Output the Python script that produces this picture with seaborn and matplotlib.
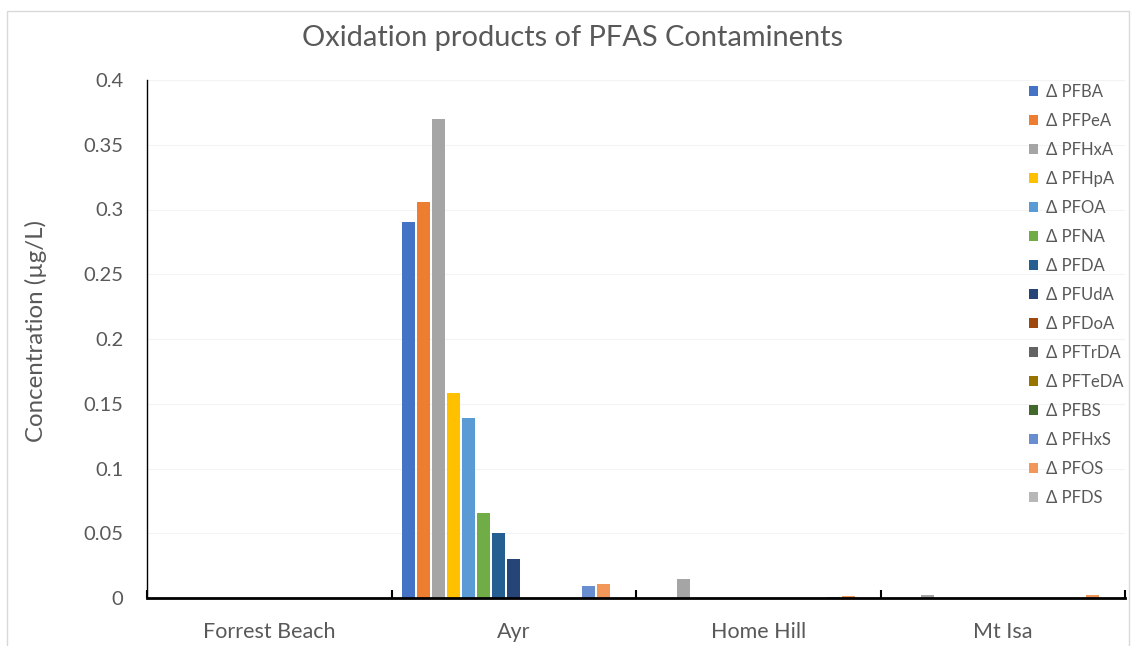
import numpy as np
import pandas as pd
import matplotlib
matplotlib.use("Agg")
import matplotlib.pyplot as plt
import seaborn as sns
from matplotlib.patches import Patch, Rectangle
from matplotlib.ticker import FixedLocator

sites = ["Forrest Beach", "Ayr", "Home Hill", "Mt Isa"]
compounds = ["Δ PFBA", "Δ PFPeA", "Δ PFHxA", "Δ PFHpA", "Δ PFOA", "Δ PFNA", "Δ PFDA",
             "Δ PFUdA", "Δ PFDoA", "Δ PFTrDA", "Δ PFTeDA", "Δ PFBS", "Δ PFHxS",
             "Δ PFOS", "Δ PFDS"]
forrest_beach = [0, 0, 0, 0, 0, 0, 0, 0, 0, 0, 0, 0, 0, 0, 0]
ayr = [0.290, 0.306, 0.370, 0.158, 0.139, 0.066, 0.050, 0.030, 0, 0, 0, 0, 0.0095, 0.011, 0]
home_hill = [0, 0, 0.015, 0, 0, 0, 0, 0, 0, 0, 0, 0, 0.0005, 0.0015, 0]
mt_isa = [0, 0, 0.0025, 0, 0, 0, 0, 0, 0, 0, 0, 0, -0.0005, 0.0025, 0]
colors = ["#4472C4", "#ED7D31", "#A5A5A5", "#FFC000", "#5B9BD5", "#70AD47", "#255E91",
          "#264478", "#9E480E", "#636363", "#997300", "#43682B", "#698ED0", "#F1975A",
          "#B7B7B7"]
y_ticks = [0, 0.05, 0.1, 0.15, 0.2, 0.25, 0.3, 0.35, 0.4]
y_labels = ["0", "0.05", "0.1", "0.15", "0.2", "0.25", "0.3", "0.35", "0.4"]

rows = []
for site, vals in zip(sites, [forrest_beach, ayr, home_hill, mt_isa]):
    for c, v in zip(compounds, vals):
        rows.append({"Site": site, "Compound": c, "Value": v})
df = pd.DataFrame(rows)

sns.set_theme(style="white")
plt.rcParams["font.family"] = ["Lato", "DejaVu Sans"]
txt = "#595959"

fig = plt.figure(figsize=(11.4, 6.46), dpi=100)
ax = fig.add_axes([147/1140, 1-598/646, (1125-147)/1140, (598-80)/646])
sns.barplot(data=df, x="Site", y="Value", hue="Compound", order=sites,
            hue_order=compounds, palette=colors, width=0.92, gap=0.13,
            saturation=1, ax=ax, legend=False, errorbar=None, zorder=3)
for p in ax.patches:
    p.set_clip_on(False)
    p.set_linewidth(0)

ax.set_ylim(0, 0.4)
ax.set_xlim(-0.5, 3.5)
ax.set_yticks(y_ticks)
ax.set_yticklabels(y_labels)
ax.yaxis.grid(True, color="#F3F3F3", linewidth=0.8, zorder=0)
ax.set_axisbelow(True)
ax.set_xlabel("")
ax.set_ylabel("Concentration (µg/L)", fontsize=17.3, color=txt)
ax.yaxis.set_label_coords(-(147-47)/978, (598-331)/518)
ax.tick_params(axis="y", length=0, pad=17, labelsize=14.5, labelcolor=txt)
ax.tick_params(axis="x", which="major", length=0, pad=17, labelsize=15.5, labelcolor=txt)
ax.xaxis.set_minor_locator(FixedLocator([-0.5, 0.5, 1.5, 2.5, 3.5]))
ax.tick_params(axis="x", which="minor", direction="in", length=6, width=1.5,
               color="black", bottom=True)
for s in ["top", "right"]:
    ax.spines[s].set_visible(False)
ax.spines["left"].set_color("black")
ax.spines["left"].set_linewidth(1)
ax.spines["bottom"].set_color("black")
ax.spines["bottom"].set_linewidth(2)
ax.spines["bottom"].set_zorder(4)

fig.text(573/1140, 1-38/646, "Oxidation products of PFAS Contaminents",
         ha="center", va="center", fontsize=20.9, color=txt)

handles = [Patch(facecolor=c, edgecolor="none") for c in colors]
leg = fig.legend(handles, compounds, loc="upper left",
                 bbox_to_anchor=(1022/1140, 1-77/646), frameon=False,
                 fontsize=12, handlelength=0.55, handleheight=0.55,
                 handletextpad=0.5, labelspacing=0.78, borderaxespad=0)
for t in leg.get_texts():
    t.set_color(txt)

fig.add_artist(Rectangle((7/1140, -0.1), (1129-7)/1140, 1.1-11/646,
                         transform=fig.transFigure, fill=False,
                         edgecolor="#D9D9D9", linewidth=1))

fig.savefig("out.png", dpi=100)
